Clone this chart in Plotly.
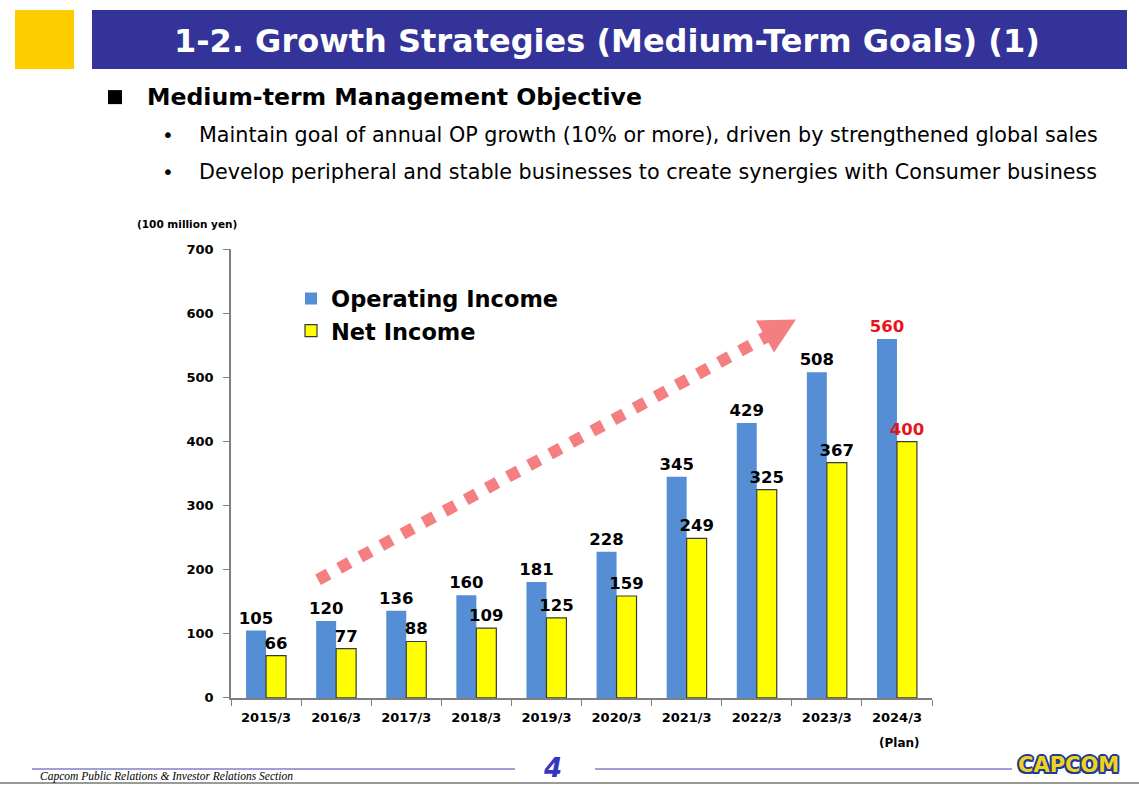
import plotly.graph_objects as go

W, H = 1139, 792

categories = ["2015/3", "2016/3", "2017/3", "2018/3", "2019/3",
              "2020/3", "2021/3", "2022/3", "2023/3", "2024/3"]
operating_income = [105, 120, 136, 160, 181, 228, 345, 429, 508, 560]
net_income = [66, 77, 88, 109, 125, 159, 249, 325, 367, 400]
y_ticks = [0, 100, 200, 300, 400, 500, 600, 700]
plan_flags = [False] * 9 + [True]

# page-pixel -> paper helpers (calibrated to the rendered page)
Y0, YH = 8, 776

def px(x):
    return x / W

def py(y):
    return 1 - (y - Y0) / YH

label_colors = ["#E8141B" if p else "#000000" for p in plan_flags]
FONT = "DejaVu Sans"

fig = go.Figure()
fig.add_trace(go.Bar(
    name="Operating Income", x=categories, y=operating_income,
    marker=dict(color="#558ED5", line=dict(width=0)),
    text=[str(v) for v in operating_income], textposition="outside",
    constraintext="none",
    textfont=dict(family=FONT, size=16.5, color=label_colors, weight="bold"),
    cliponaxis=False,
))
fig.add_trace(go.Bar(
    name="Net Income", x=categories, y=net_income,
    marker=dict(color="#FFFF00", line=dict(width=1.2, color="#3a3a3a")),
    text=[str(v) for v in net_income], textposition="outside",
    constraintext="none",
    textfont=dict(family=FONT, size=16.5, color=label_colors, weight="bold"),
    cliponaxis=False,
))

fig.update_layout(
    width=W, height=H,
    margin=dict(l=0, r=0, t=0, b=0),
    paper_bgcolor="white", plot_bgcolor="white",
    barmode="group", bargap=0.43, bargroupgap=0,
    font=dict(family=FONT, color="#000000"),
    showlegend=True,
    legend=dict(
        x=px(291), y=py(278), xanchor="left", yanchor="top",
        font=dict(family=FONT, size=22.5, color="#000000", weight="bold"),
        bgcolor="rgba(0,0,0,0)", tracegroupgap=0, itemwidth=30,
    ),
    xaxis=dict(
        domain=[px(231), px(932)],
        tickson="boundaries", ticks="outside", ticklen=6, tickcolor="#7f7f7f",
        showline=True, linecolor="#7f7f7f", linewidth=1.5,
        showgrid=False, zeroline=False,
        tickfont=dict(family=FONT, size=13, color="#000000", weight="bold"),
        ticklabelstandoff=7,
    ),
    yaxis=dict(
        domain=[py(698), py(250)],
        range=[0, 700], tickvals=y_ticks,
        ticks="outside", ticklen=6, tickcolor="#7f7f7f",
        showline=True, linecolor="#7f7f7f", linewidth=1.5,
        showgrid=False, zeroline=False,
        tickfont=dict(family=FONT, size=13, color="#000000", weight="bold"),
        ticklabelstandoff=7,
    ),
)

shapes = [
    # bottom gray rule
    dict(type="rect", xref="paper", yref="paper", x0=0, x1=1, y0=0, y1=py(782),
         fillcolor="#9a9a9a", line=dict(width=0), layer="below"),
    # header blocks
    dict(type="rect", xref="paper", yref="paper", x0=px(15), x1=px(74), y0=py(70), y1=py(11),
         fillcolor="#FFCC00", line=dict(width=0)),
    dict(type="rect", xref="paper", yref="paper", x0=px(92), x1=px(1127), y0=py(70), y1=py(11),
         fillcolor="#333399", line=dict(width=0)),
    # section square bullet
    dict(type="rect", xref="paper", yref="paper", x0=px(108), x1=px(122), y0=py(105), y1=py(91),
         fillcolor="#000000", line=dict(width=0)),
    # dashed growth arrow
    dict(type="line", xref="paper", yref="paper", x0=px(318), y0=py(580), x1=px(767), y1=py(337),
         line=dict(color="#F47E80", width=12, dash="dot"), layer="above"),
    dict(type="path", xref="paper", yref="paper",
         path=f"M {px(756)} {py(321)} L {px(796)} {py(320)} L {px(774)} {py(353)} Z",
         fillcolor="#F47E80", line=dict(width=0), layer="above"),
    # footer rules
    dict(type="line", xref="paper", yref="paper", x0=px(32), x1=px(515), y0=py(769), y1=py(769),
         line=dict(color="#8080C8", width=1.5)),
    dict(type="line", xref="paper", yref="paper", x0=px(595), x1=px(1012), y0=py(769), y1=py(769),
         line=dict(color="#8080C8", width=1.5)),
]
fig.update_layout(shapes=shapes)

def ann(text, x, y, size, color="#000000", xanchor="left", family=FONT, weight="normal",
        style="normal", shadow=None):
    f = dict(family=family, size=size, color=color, weight=weight, style=style)
    if shadow:
        f["shadow"] = shadow
    return dict(text=text, xref="paper", yref="paper", x=px(x), y=py(y),
                xanchor=xanchor, yanchor="middle", showarrow=False, font=f)

annotations = [
    ann("1-2. Growth Strategies (Medium-Term Goals) (1)", 607, 42, 32, color="#FFFFFF",
        xanchor="center", weight="bold"),
    ann("Medium-term Management Objective", 145, 98, 23.6, weight="bold"),
    ann("•", 160, 136, 20),
    ann("Maintain goal of annual OP growth (10% or more), driven by strengthened global sales",
        197, 136, 20.7),
    ann("•", 160, 173, 20),
    ann("Develop peripheral and stable businesses to create synergies with Consumer business",
        197, 173, 20.7),
    ann("(100 million yen)", 135, 225, 10.5, weight="bold"),
    ann("(Plan)", 899, 743, 12, xanchor="center", weight="bold"),
    ann("Capcom Public Relations &amp; Investor Relations Section", 38, 777, 11.5,
        family="Liberation Serif", style="italic"),
    ann("4", 552, 768, 26, color="#3535C0", xanchor="center", weight="bold", style="italic"),
    ann("CAPCOM", 1068, 765, 21, color="#F2D21B", xanchor="center", weight="bold",
        shadow="-2px 0 #1F3C96, 2px 0 #1F3C96, 0 -2px #1F3C96, 0 2px #1F3C96, "
               "-1.5px -1.5px #1F3C96, 1.5px 1.5px #1F3C96, -1.5px 1.5px #1F3C96, 1.5px -1.5px #1F3C96"),
]
fig.update_layout(annotations=annotations)

fig.write_html("out.html")
